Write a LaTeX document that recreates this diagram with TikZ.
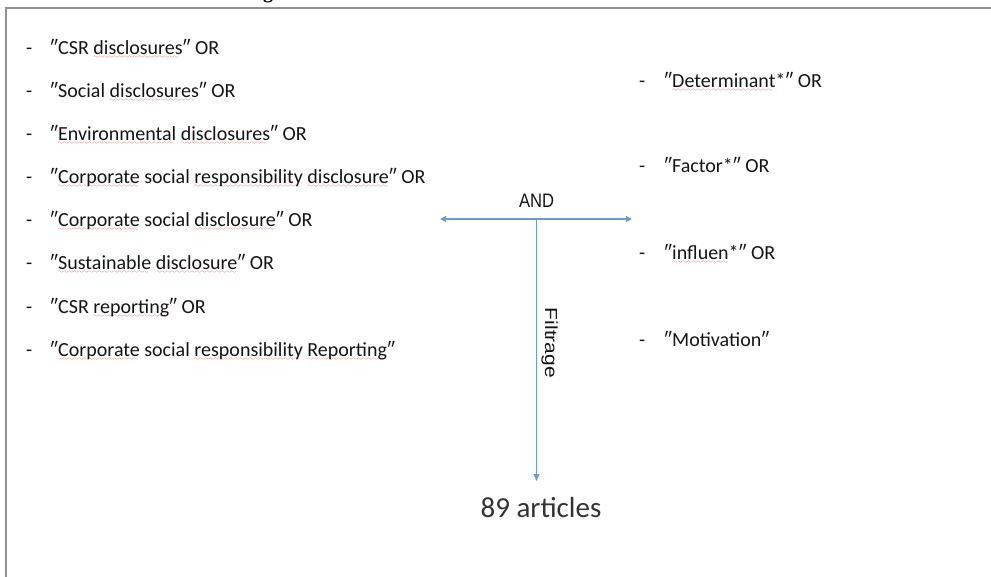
\documentclass[tikz,border=0pt]{standalone}
\usepackage{fontspec}
\setmainfont{Carlito}
\newfontfamily\andfont[FakeStretch=0.85]{Liberation Sans}
\newfontfamily\filtfont[FakeStretch=1.2]{Liberation Sans}
\newfontfamily\titlefont{Liberation Serif}
\usepackage{tikz}
\usetikzlibrary{arrows.meta}
\definecolor{linkblue}{RGB}{110,155,200}
\definecolor{framegrey}{RGB}{140,146,152}
\definecolor{spellred}{RGB}{215,70,70}
\definecolor{textgrey}{RGB}{20,20,20}
\font\wavefont=lasy6
\newcommand\typo[1]{\setbox0=\hbox{#1}%
  \rlap{\textcolor{spellred}{\lower3.5pt\hbox to \wd0{\leaders\hbox{\wavefont\char58}\hfill}}}\box0\relax}
\newcommand\dq{″}
\newcommand\listdash[1][24pt]{\makebox[#1][l]{-}}
\tikzset{
  keyword/.style = {anchor=base west, inner sep=0pt, text=textgrey,
                    font=\fontsize{20}{24}\selectfont},
  oplabel/.style = {anchor=base, inner sep=0pt, text=textgrey},
  link/.style    = {draw=linkblue, line width=1.3pt},
}

\begin{document}
\begin{tikzpicture}[x=1pt, y=-1pt]
  \useasboundingbox (0,0) rectangle (991,577);
  % frame and the cut title above it
  \draw [framegrey, line width=2pt] (6,577) -- (6,8) -- (991,8);
  \node (title) [anchor=base, inner sep=0pt] at (268,-1.5)
    {\titlefont\bfseries\fontsize{20}{24}\selectfont g};

  % first group of keywords
  \node (k1) [keyword] at (26,55)    {\listdash\dq CSR \typo{disclosures}\dq{} OR};
  \node (k2) [keyword] at (26,98)    {\listdash\dq Social \typo{disclosures}\dq{} OR};
  \node (k3) [keyword] at (26,141)   {\listdash\dq\typo{Environmental} \typo{disclosures}\dq{} OR};
  \node (k4) [keyword] at (26,184)   {\listdash\dq\typo{Corporate} social \typo{responsibility} \typo{disclosure}\dq{} OR};
  \node (k5) [keyword] at (26,227)   {\listdash\dq\typo{Corporate} social \typo{disclosure}\dq{} OR};
  \node (k6) [keyword] at (26,270)   {\listdash\dq\typo{Sustainable} \typo{disclosure}\dq{} OR};
  \node (k7) [keyword] at (26,314)   {\listdash\dq CSR \typo{reporting}\dq{} OR};
  \node (k8) [keyword] at (26,357)   {\listdash\dq\typo{Corporate} social \typo{responsibility} \typo{Reporting}\dq};

  % second group of keywords
  \node (f1) [keyword] at (639,88)   {\listdash[25pt]\dq\typo{Determinant}*\dq{} OR};
  \node (f2) [keyword] at (639,173)  {\listdash[25pt]\dq Factor*\dq{} OR};
  \node (f3) [keyword] at (639,260)  {\listdash[25pt]\dq\typo{influen}*\dq{} OR};
  \node (f4) [keyword] at (639,347)  {\listdash[25pt]\dq Motivation\dq};

  % AND / Filtrage
  \coordinate (andL) at (440,219);
  \coordinate (andR) at (632,219);
  \coordinate (junc) at (536.5,219);
  \coordinate (stop) at (536.5,481);
  \node (and) [oplabel] at (536.5,208) {\andfont\fontsize{19.5}{23}\selectfont AND};
  \node (filt) [oplabel, rotate=-90] at (545,343)
    {\filtfont\fontsize{17.5}{21}\selectfont Filtrage};
  \node (result) [oplabel, text=black!80] at (541,517)
    {\fontsize{29}{34}\selectfont 89 articles};

  \draw [link, {Triangle[length=6pt,width=6pt]}-{Triangle[length=6pt,width=6pt]}] (andL) -- (andR);
  \draw [link, -{Triangle[length=7pt,width=6pt]}] (junc) -- (stop);
\end{tikzpicture}
\end{document}
